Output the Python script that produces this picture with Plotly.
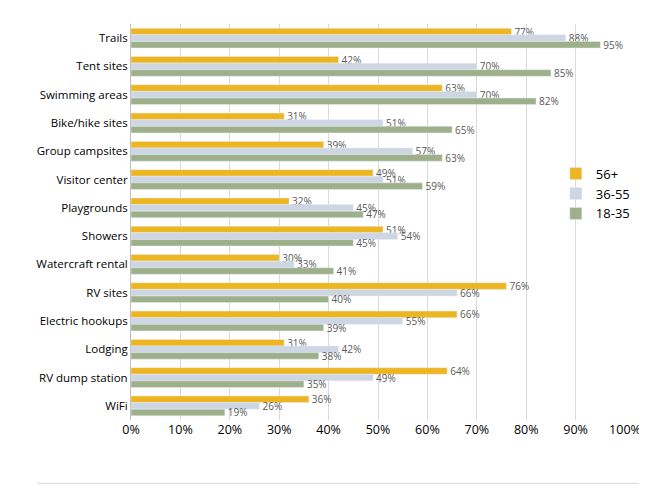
import plotly.graph_objects as go

categories = ["Trails", "Tent sites", "Swimming areas", "Bike/hike sites", "Group campsites",
              "Visitor center", "Playgrounds", "Showers", "Watercraft rental", "RV sites",
              "Electric hookups", "Lodging", "RV dump station", "WiFi"]
age_56 = [77, 42, 63, 31, 39, 49, 32, 51, 30, 76, 66, 31, 64, 36]
age_36 = [88, 70, 70, 51, 57, 51, 45, 54, 33, 66, 55, 42, 49, 26]
age_18 = [95, 85, 82, 65, 63, 59, 47, 45, 41, 40, 39, 38, 35, 19]
x_ticks = list(range(0, 101, 10))

series = [("56+", age_56, "#EDB620"), ("36-55", age_36, "#CDD6E2"), ("18-35", age_18, "#9DB08A")]

fig = go.Figure()
for name, vals, col in series:
    fig.add_trace(go.Bar(
        y=categories, x=vals, name=name, orientation="h",
        marker=dict(color=col),
        text=[f"{v}%" for v in vals], textposition="outside", constraintext="none",
        textfont=dict(size=10, color="#595959"), cliponaxis=False,
    ))

fig.update_layout(
    width=647, height=488,
    margin=dict(l=123, r=30, t=16, b=76),
    paper_bgcolor="white", plot_bgcolor="white",
    barmode="group", bargap=0.3, bargroupgap=0,
    uniformtext=dict(minsize=10, mode="show"),
    font=dict(family="Open Sans, Liberation Sans, sans-serif", size=12, color="#000"),
    legend=dict(x=0.86, y=0.66, xanchor="left", yanchor="top",
                font=dict(size=13), bgcolor="rgba(0,0,0,0)"),
    showlegend=True,
)
fig.update_xaxes(range=[0, 100], tickvals=x_ticks, ticktext=[f"{t}%" for t in x_ticks],
                 showgrid=True, gridcolor="#D9D9D9", zeroline=False,
                 tickfont=dict(size=12.5))
fig.update_yaxes(autorange="reversed", showline=True, linecolor="#BFBFBF",
                 tickfont=dict(size=11.5), ticks="")
fig.add_shape(type="line", xref="paper", yref="paper", x0=-0.19, x1=1.05, y0=-0.16, y1=-0.16,
              line=dict(color="#D9D9D9", width=1))

fig.write_html("out.html")
